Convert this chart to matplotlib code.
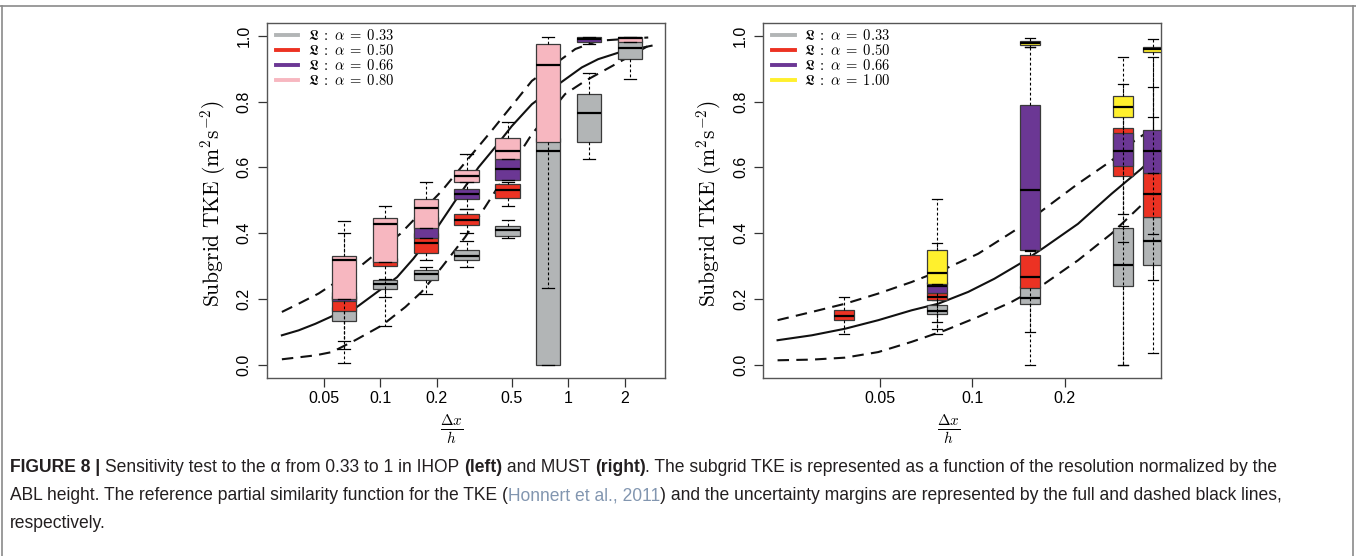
import numpy as np
import matplotlib
matplotlib.use('Agg')
import matplotlib.pyplot as plt
from matplotlib.lines import Line2D

plt.rcParams['mathtext.fontset'] = 'cm'

# Delta x / h of each group of boxes
ihop_dx = [0.0641, 0.1057, 0.1745, 0.2877, 0.4755, 0.782, 1.291, 2.127]
must_dx = [0.0383, 0.0769, 0.1538, 0.3096, 0.388]

# box stats (whislo, q1, median, q3, whishi), None = no run at that resolution
ihop_a033 = [(0.006, 0.133, 0.165, 0.175, 0.19), (0.118, 0.231, 0.246, 0.258, 0.261),
             (0.214, 0.256, 0.274, 0.288, 0.298), (0.297, 0.319, 0.331, 0.349, 0.376),
             (0.385, 0.390, 0.408, 0.421, 0.440), (0.0, 0.0, 0.651, 0.69, 0.72),
             (0.626, 0.678, 0.764, 0.823, 0.887), (0.869, 0.929, 0.962, 0.985, 0.99)]
ihop_a050 = [(0.046, 0.163, 0.20, 0.21, 0.25), (0.205, 0.299, 0.315, 0.325, 0.35),
             (0.319, 0.339, 0.369, 0.40, 0.43), (0.401, 0.425, 0.440, 0.458, 0.474),
             (0.482, 0.507, 0.531, 0.550, 0.555), None, None, None]
ihop_a066 = [(0.072, 0.192, 0.21, 0.22, 0.401), None,
             (0.385, 0.385, 0.43, 0.45, 0.47), (0.474, 0.504, 0.519, 0.534, 0.56),
             (0.562, 0.562, 0.595, 0.626, 0.68), None,
             (0.975, 0.982, 0.990, 0.997, 0.998), None]
ihop_a080 = [(0.200, 0.200, 0.319, 0.329, 0.436), (0.311, 0.311, 0.428, 0.446, 0.482),
             (0.416, 0.416, 0.476, 0.504, 0.555), (0.555, 0.555, 0.573, 0.591, 0.641),
             (0.626, 0.626, 0.651, 0.688, 0.739), (0.234, 0.678, 0.911, 0.974, 0.997),
             None, (0.980, 0.980, 0.994, 0.997, 0.998)]

must_a033 = [None, (0.092, 0.153, 0.163, 0.182, 0.195), (0.0, 0.183, 0.202, 0.24, 0.30),
             (0.0, 0.238, 0.302, 0.416, 0.42), (0.256, 0.302, 0.376, 0.450, 0.936)]
must_a050 = [(0.094, 0.137, 0.148, 0.165, 0.207), (0.109, 0.195, 0.207, 0.218, 0.23),
             (0.099, 0.234, 0.266, 0.332, 0.345), (0.374, 0.575, 0.64, 0.720, 0.76),
             (0.398, 0.450, 0.519, 0.582, 0.752)]
must_a066 = [None, (0.130, 0.218, 0.238, 0.25, 0.369), (0.350, 0.350, 0.531, 0.789, 0.965),
             (0.459, 0.605, 0.650, 0.704, 0.853), (0.582, 0.582, 0.651, 0.714, 0.843)]
must_a100 = [None, (0.246, 0.246, 0.279, 0.349, 0.504), (0.965, 0.973, 0.979, 0.985, 0.993),
             (0.0, 0.752, 0.785, 0.817, 0.936), (0.036, 0.952, 0.960, 0.967, 0.990)]

# reference similarity function and its margins
ihop_ref_x = [0.030, 0.0368, 0.0452, 0.0554, 0.0743, 0.102, 0.123, 0.150, 0.20, 0.251,
              0.333, 0.408, 0.50, 0.640, 0.912, 1.18, 1.44, 1.85, 2.77]
ihop_ref_y = [0.089, 0.104, 0.124, 0.147, 0.173, 0.231, 0.266, 0.322, 0.415, 0.499,
              0.600, 0.661, 0.725, 0.792, 0.858, 0.904, 0.929, 0.949, 0.970]
ihop_up_x = [0.030, 0.0368, 0.047, 0.0783, 0.128, 0.213, 0.283, 0.392, 0.640, 1.09, 1.44, 2.66]
ihop_up_y = [0.160, 0.185, 0.216, 0.299, 0.398, 0.529, 0.615, 0.712, 0.863, 0.960, 0.985, 0.995]
ihop_lo_x = [0.030, 0.0452, 0.0554, 0.0736, 0.102, 0.136, 0.166, 0.213, 0.283, 0.361,
             0.640, 0.962, 1.23, 1.85, 2.77]
ihop_lo_y = [0.016, 0.028, 0.038, 0.074, 0.119, 0.175, 0.221, 0.297, 0.388, 0.479,
             0.701, 0.823, 0.863, 0.919, 0.975]

must_ref_x = [0.0232, 0.030, 0.0385, 0.0494, 0.0634, 0.0774, 0.097, 0.118, 0.143, 0.172,
              0.221, 0.284, 0.355, 0.369]
must_ref_y = [0.074, 0.089, 0.109, 0.135, 0.165, 0.185, 0.221, 0.261, 0.307, 0.357,
              0.428, 0.519, 0.595, 0.610]
must_up_x = [0.0232, 0.030, 0.0385, 0.0494, 0.0634, 0.0815, 0.1045, 0.143, 0.172, 0.221,
             0.284, 0.338, 0.369]
must_up_y = [0.135, 0.160, 0.185, 0.216, 0.251, 0.291, 0.337, 0.418, 0.474, 0.550,
             0.620, 0.681, 0.705]
must_lo_x = [0.0232, 0.030, 0.0385, 0.0494, 0.0634, 0.0815, 0.1045, 0.134, 0.172, 0.221,
             0.284, 0.355, 0.369]
must_lo_y = [0.013, 0.015, 0.021, 0.038, 0.069, 0.104, 0.145, 0.190, 0.246, 0.317,
             0.398, 0.484, 0.50]

ihop_labels = ['0.33', '0.50', '0.66', '0.80']
must_labels = ['0.33', '0.50', '0.66', '1.00']
ihop_colors = ['#b2b5b6', '#ec3223', '#6b3794', '#f7b7c0']
must_colors = ['#b2b5b6', '#ec3223', '#6b3794', '#fff02d']

ihop_xticks = [0.05, 0.1, 0.2, 0.5, 1, 2]
must_xticks = [0.05, 0.1, 0.2]
yticks = [0.0, 0.2, 0.4, 0.6, 0.8, 1.0]

W, H = 1356, 556
fig = plt.figure(figsize=(W / 100, H / 100), dpi=100)
frame_col = '#555555'


def draw_series(ax, dx, stats, color, z, width):
    pos, bxs = [], []
    for x, s in zip(dx, stats):
        if s is None:
            continue
        wlo, q1, med, q3, whi = s
        bxs.append(dict(whislo=wlo, q1=q1, med=med, q3=q3, whishi=whi, fliers=[]))
        pos.append(np.log10(x))
    ax.bxp(bxs, positions=pos, widths=width, capwidths=width * 0.5, patch_artist=True,
           showfliers=False, manage_ticks=False,
           boxprops=dict(facecolor=color, edgecolor='#3a3a3a', linewidth=0.9, zorder=z),
           whiskerprops=dict(color='black', linestyle=(0, (2.5, 2.0)), linewidth=0.8, zorder=z + 0.5),
           capprops=dict(color='black', linewidth=0.9, zorder=z + 0.5),
           medianprops=dict(color='black', linewidth=1.6, zorder=z + 0.7, solid_capstyle='butt'))


def panel(left_px, dx, series, colors, labels, curves, xticks, xlim, width):
    ax = fig.add_axes([left_px / W, 1 - 377.7 / H, 398 / W, 355 / H])
    for (cx, cy), ls in zip(curves, ['-', (0, (5.5, 3.5)), (0, (5.5, 3.5))]):
        ax.plot(np.log10(cx), cy, color='#111111', lw=1.5, linestyle=ls, zorder=1)
    for i, (st, col) in enumerate(zip(series, colors)):
        draw_series(ax, dx, st, col, 2 + i, width)
    ax.set_xlim(*xlim)
    ax.set_ylim(-0.04, 1.04)
    ax.set_xticks(np.log10(xticks))
    ax.set_xticklabels([('%g' % t) for t in xticks])
    ax.set_yticks(yticks)
    ax.set_yticklabels(['%.1f' % t for t in yticks])
    for lab in ax.get_xticklabels() + ax.get_yticklabels():
        lab.set_fontfamily('Liberation Sans')
        lab.set_fontsize(11.5)
    for lab in ax.get_yticklabels():
        lab.set_rotation(90)
        lab.set_va('center')
    ax.tick_params(axis='both', length=6.3, width=0.9, color='#333333')
    ax.tick_params(axis='x', pad=3.6)
    ax.tick_params(axis='y', pad=4.7)
    for sp in ax.spines.values():
        sp.set_color(frame_col)
        sp.set_linewidth(1.0)
    handles = [Line2D([], [], color=c, lw=2.8) for c in colors]
    ax.legend(handles, [r'$\mathfrak{L}\;:\;\alpha\;=\;%s$' % l for l in labels],
              loc='upper left', bbox_to_anchor=(0.022, 0.984), frameon=False,
              fontsize=10.5, handlelength=1.55, handletextpad=0.65, labelspacing=0.0,
              borderpad=0, borderaxespad=0)
    ax.text(-0.136, 0.49, r'$\mathrm{Subgrid\ TKE\ (m^2s^{-2})}$', rotation=90,
            ha='center', va='center', fontsize=15.5, transform=ax.transAxes)
    ax.text(0.465, -0.147, r'$\frac{\Delta x}{h}$', ha='center', va='center',
            fontsize=15.5, transform=ax.transAxes)
    return ax


panel(267, ihop_dx, [ihop_a033, ihop_a050, ihop_a066, ihop_a080], ihop_colors, ihop_labels,
      [(ihop_ref_x, ihop_ref_y), (ihop_up_x, ihop_up_y), (ihop_lo_x, ihop_lo_y)],
      ihop_xticks, (-1.602, 0.514), 0.129)
panel(763.3, must_dx, [must_a033, must_a050, must_a066, must_a100], must_colors, must_labels,
      [(must_ref_x, must_ref_y), (must_up_x, must_up_y), (must_lo_x, must_lo_y)],
      must_xticks, (-1.681, -0.384), 0.0651)

# outer frame of the figure box
border = '#8a8a8a'
fig.add_artist(Line2D([0, 1], [1 - 6 / H, 1 - 6 / H], color=border, lw=1.2, transform=fig.transFigure))
fig.add_artist(Line2D([1.5 / W, 1.5 / W], [0, 1 - 6 / H], color=border, lw=1.2, transform=fig.transFigure))
fig.add_artist(Line2D([1 - 3.5 / W, 1 - 3.5 / W], [0, 1 - 6 / H], color=border, lw=1.2, transform=fig.transFigure))

# caption, built piece by piece to mix bold / link colour
ink = '#231f20'
link = '#8296b0'
caption = [
    [("FIGURE 8 | ", 'bold', ink),
     ("Sensitivity test to the \u03b1 from 0.33 to 1 in IHOP ", 'normal', ink),
     ("(left)", 'bold', ink), (" and MUST ", 'normal', ink), ("(right)", 'bold', ink),
     (". The subgrid TKE is represented as a function of the resolution normalized by the", 'normal', ink)],
    [("ABL height. The reference partial similarity function for the TKE (", 'normal', ink),
     ("Honnert et al., 2011", 'normal', link),
     (") and the uncertainty margins are represented by the full and dashed black lines,", 'normal', ink)],
    [("respectively.", 'normal', ink)],
]
cap_font = 'Liberation Sans'
cap_y = [466, 494, 522]

fig.canvas.draw()
rend = fig.canvas.get_renderer()


def text_w(txt, weight, size):
    t = fig.text(0, 0, '|' + txt + '|', fontsize=size, fontweight=weight, family=cap_font)
    t2 = fig.text(0, 0, '||', fontsize=size, fontweight=weight, family=cap_font)
    w = t.get_window_extent(rend).width - t2.get_window_extent(rend).width
    t.remove()
    t2.remove()
    return w


line1_w = sum(text_w(p[0], p[1], 10) for p in caption[0])
cap_size = 10 * (1277 / line1_w)
em = cap_size * 100 / 72
for line, yc in zip(caption, cap_y):
    x = 10
    base = yc + 0.358 * em
    for txt, wt, col in line:
        fig.text(x / W, 1 - base / H, txt, fontsize=cap_size, fontweight=wt, color=col,
                 family=cap_font, va='baseline', ha='left')
        x += text_w(txt, wt, cap_size)

fig.savefig('out.png', dpi=100)
